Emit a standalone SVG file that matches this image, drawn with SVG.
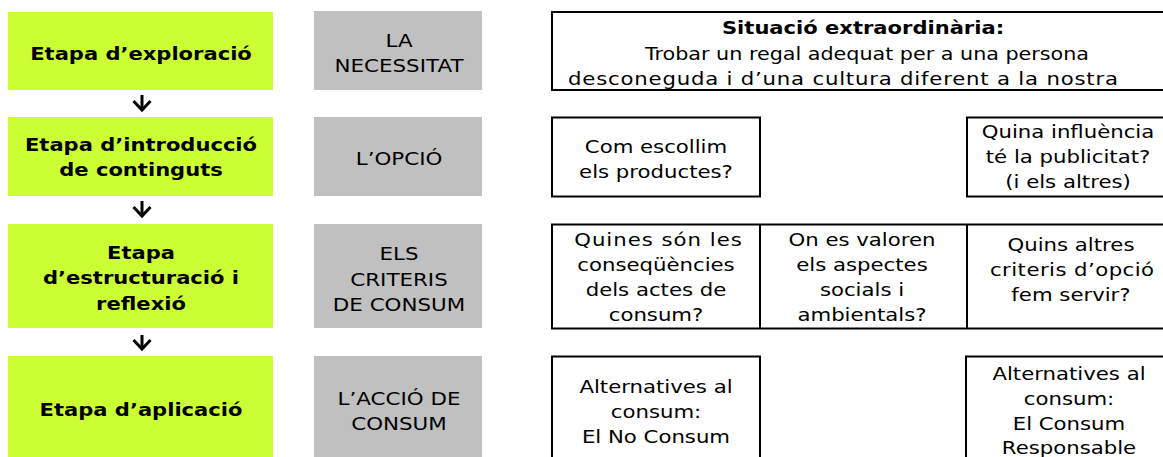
<svg xmlns="http://www.w3.org/2000/svg" width="1163" height="457" viewBox="0 0 1163 457">
<style>
.stage{fill:#CCFF33;}
.theme{fill:#C0C0C0;}
.box{fill:#FFFFFF;stroke:#000000;stroke-width:2;}
.div{stroke:#000000;stroke-width:2;}
text{font-family:"DejaVu Sans",Verdana,sans-serif;font-size:18px;fill:#000000;text-anchor:middle;}
.b{font-weight:bold;}
.arrow{stroke:#000000;stroke-width:3;fill:none;}
</style>
<defs>
<marker id="chev" markerUnits="userSpaceOnUse" markerWidth="22" markerHeight="22" viewBox="-2 -2 22 22" refX="9" refY="9" orient="auto">
<path d="M0,0.5 L9,9 L0,17.5" fill="none" stroke="#000000" stroke-width="3" stroke-linejoin="miter"/>
</marker>
</defs>

<g id="stage1">
<rect class="stage" x="8" y="12" width="265" height="78"/>
<text class="b" transform="translate(141 0) scale(1.17 1)"><tspan x="0" y="60">Etapa d’exploració</tspan></text>
</g>
<g id="stage2">
<rect class="stage" x="8" y="117" width="265" height="79"/>
<text class="b" transform="translate(141 0) scale(1.17 1)"><tspan x="0" y="151">Etapa d’introducció</tspan><tspan x="0" y="176">de continguts</tspan></text>
</g>
<g id="stage3">
<rect class="stage" x="8" y="224" width="265" height="104"/>
<text class="b" transform="translate(141 0) scale(1.17 1)"><tspan x="0" y="259">Etapa</tspan><tspan x="0" y="284.5">d’estructuració i</tspan><tspan x="0" y="310">reflexió</tspan></text>
</g>
<g id="stage4">
<rect class="stage" x="8" y="356" width="265" height="110"/>
<text class="b" transform="translate(141 0) scale(1.17 1)"><tspan x="0" y="416">Etapa d’aplicació</tspan></text>
</g>

<g id="theme1">
<rect class="theme" x="314" y="11" width="168" height="79"/>
<text transform="translate(399 0) scale(1.19 1)"><tspan x="0" y="47">LA</tspan><tspan x="0" y="72.5">NECESSITAT</tspan></text>
</g>
<g id="theme2">
<rect class="theme" x="314" y="117" width="168" height="79"/>
<text transform="translate(399 0) scale(1.19 1)"><tspan x="0" y="165.5">L’OPCIÓ</tspan></text>
</g>
<g id="theme3">
<rect class="theme" x="314" y="224" width="168" height="104"/>
<text transform="translate(399 0) scale(1.19 1)"><tspan x="0" y="260">ELS</tspan><tspan x="0" y="285.5">CRITERIS</tspan><tspan x="0" y="311">DE CONSUM</tspan></text>
</g>
<g id="theme4">
<rect class="theme" x="314" y="356" width="168" height="110"/>
<text transform="translate(399 0) scale(1.19 1)"><tspan x="0" y="405">L’ACCIÓ DE</tspan><tspan x="0" y="430.5">CONSUM</tspan></text>
</g>

<g id="situacio">
<rect class="box" x="552" y="12" width="618" height="78"/>
<text class="b" transform="translate(863 0) scale(1.17 1)"><tspan x="0" y="34">Situació extraordinària:</tspan></text>
<text transform="translate(867 0) scale(1.15 1)"><tspan x="0" y="60">Trobar un regal adequat per a una persona</tspan></text>
<text transform="translate(843 0) scale(1.18 1)" x="0" y="85.5" textLength="466" lengthAdjust="spacing">desconeguda i d’una cultura diferent a la nostra</text>
</g>

<g id="escollim">
<rect class="box" x="552" y="117.5" width="208" height="79"/>
<text transform="translate(656 0) scale(1.18 1)"><tspan x="0" y="153">Com escollim</tspan><tspan x="0" y="178">els productes?</tspan></text>
</g>
<g id="publicitat">
<rect class="box" x="967" y="117.5" width="210" height="79"/>
<text transform="translate(1068 0) scale(1.18 1)"><tspan x="0" y="138">Quina influència</tspan><tspan x="0" y="163">té la publicitat?</tspan><tspan x="0" y="188">(i els altres)</tspan></text>
</g>

<g id="criteris">
<rect class="box" x="552" y="224.5" width="618" height="104"/>
<line class="div" x1="760" y1="224.5" x2="760" y2="328.5"/>
<line class="div" x1="967" y1="224.5" x2="967" y2="328.5"/>
<text transform="translate(658 0) scale(1.18 1)" x="0" y="246.5" textLength="142" lengthAdjust="spacing">Quines són les</text>
<text transform="translate(656 0) scale(1.18 1)"><tspan x="0" y="271.5">conseqüències</tspan><tspan x="0" y="296.5">dels actes de</tspan><tspan x="0" y="321.5">consum?</tspan></text>
<text transform="translate(862 0) scale(1.18 1)"><tspan x="0" y="246.5">On es valoren</tspan><tspan x="0" y="271.5">els aspectes</tspan><tspan x="0" y="296.5">socials i</tspan><tspan x="0" y="321.5">ambientals?</tspan></text>
<text transform="translate(1071 0) scale(1.18 1)"><tspan x="0" y="251.5">Quins altres</tspan><tspan x="0" y="301.5">fem servir?</tspan></text>
<text transform="translate(1072 0) scale(1.18 1)" x="0" y="276.5" textLength="139" lengthAdjust="spacing">criteris d’opció</text>
</g>

<g id="noconsum">
<rect class="box" x="552" y="356.5" width="208" height="120"/>
<text transform="translate(656 0) scale(1.18 1)"><tspan x="0" y="393">Alternatives al</tspan><tspan x="0" y="418">consum:</tspan><tspan x="0" y="443">El No Consum</tspan></text>
</g>
<g id="responsable">
<rect class="box" x="966" y="356.5" width="210" height="120"/>
<text transform="translate(1069 0) scale(1.18 1)"><tspan x="0" y="380">Alternatives al</tspan><tspan x="0" y="405">consum:</tspan><tspan x="0" y="430">El Consum</tspan><tspan x="0" y="454">Responsable</tspan></text>
</g>

<g id="connectors">
<line class="arrow" x1="142" y1="95" x2="142" y2="110" marker-end="url(#chev)"/>
<line class="arrow" x1="142" y1="201" x2="142" y2="216" marker-end="url(#chev)"/>
<line class="arrow" x1="142" y1="335" x2="142" y2="349" marker-end="url(#chev)"/>
</g>
</svg>
